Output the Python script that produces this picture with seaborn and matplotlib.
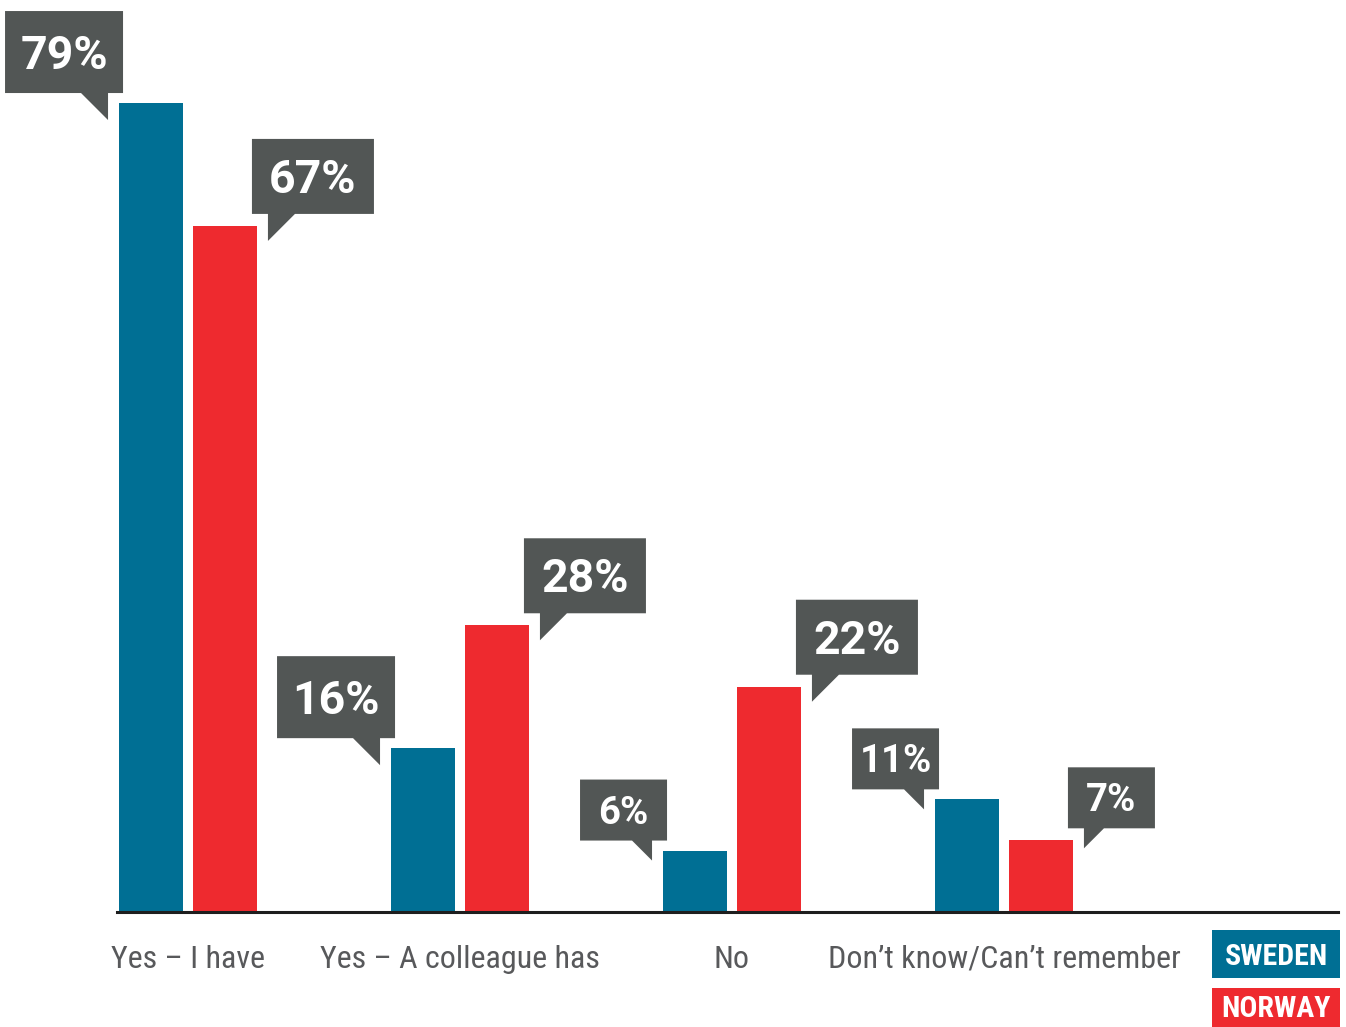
import numpy as np
import pandas as pd
import seaborn as sns
import matplotlib.pyplot as plt
from matplotlib.patches import Polygon, Rectangle
from matplotlib.transforms import IdentityTransform
from matplotlib import font_manager

# data
categories = ['Yes – I have', 'Yes – A colleague has', 'No', 'Don’t know/Can’t remember']
sweden = [79, 16, 6, 11]
norway = [67, 28, 22, 7]
countries = ['SWEDEN', 'NORWAY']
colors = ['#006f94', '#ee2a2f']
box_color = '#525655'


def pick_font(names):
    for n in names:
        try:
            font_manager.findfont(font_manager.FontProperties(family=n), fallback_to_default=False)
            return n
        except ValueError:
            pass
    return 'DejaVu Sans'


cond = pick_font(['Roboto Condensed', 'PT Sans Narrow', 'Liberation Sans Narrow', 'Liberation Sans'])
bold = pick_font(['Roboto', 'Liberation Sans'])
plt.rcParams['font.family'] = [cond, 'DejaVu Sans']

df = pd.DataFrame({
    'answer': categories * 2,
    'share': sweden + norway,
    'country': ['SWEDEN'] * len(sweden) + ['NORWAY'] * len(norway),
})

W, H = 1346, 1027
fig = plt.figure(figsize=(W / 100, H / 100), dpi=100)
ax = fig.add_axes([117 / W, 115 / H, 1221 / W, 912 / H])

sns.barplot(data=df, x='answer', y='share', hue='country', hue_order=countries,
            palette=colors, width=0.544, gap=0.136, saturation=1, legend=False, ax=ax)

ax.set_ylim(0, 912 / 10.24)
ax.set_xlim(-0.261, 4.228)
for s in ['top', 'right', 'left']:
    ax.spines[s].set_visible(False)
ax.spines['bottom'].set_linewidth(2.2)
ax.spines['bottom'].set_color('#1e1e1e')
ax.set_yticks([])
ax.set_xlabel('')
ax.set_ylabel('')
ax.tick_params(axis='x', length=0, pad=23.5, labelsize=23, labelcolor='#58595b')

# callout boxes
ident = IdentityTransform()


def callout(x_edge, y_top, value, side):
    big = value >= 15
    p = 27 if big else 20
    if side == 'left':
        w, h = (118, 82) if big else (87, 61)
        right = x_edge + 4
        bottom = y_top + 10
        left = right - w
        px = right - 15
        verts = [(left, bottom + h), (right, bottom + h), (right, bottom), (px, bottom),
                 (px, bottom - p), (px - p, bottom), (left, bottom)]
    else:
        w, h = (122, 75) if big else (87, 61)
        left = x_edge - 5
        bottom = y_top + 12
        right = left + w
        px = left + 16
        verts = [(left, bottom + h), (right, bottom + h), (right, bottom), (px + p, bottom),
                 (px, bottom - p), (px, bottom), (left, bottom)]
    fig.patches.append(Polygon(verts, closed=True, facecolor=box_color, edgecolor='none',
                               transform=ident, figure=fig))
    fs = 33.5 if big else 27.5
    cap = 0.711 * fs * 100 / 72
    fig.text((left + right) / 2, bottom + h / 2 - cap / 2, f'{value}%', transform=ident,
             ha='center', va='baseline', color='white', fontsize=fs, fontweight='bold',
             family=[bold, 'DejaVu Sans'])


for cont, vals, side in zip(ax.containers, [sweden, norway], ['left', 'right']):
    for bar, v in zip(cont, vals):
        if side == 'left':
            xd, yd = ax.transData.transform((bar.get_x(), bar.get_height()))
        else:
            xd, yd = ax.transData.transform((bar.get_x() + bar.get_width(), bar.get_height()))
        callout(xd, yd, v, side)

# legend boxes
for (y0, y1), name, c in zip([(49, 97), (0, 39)], countries, colors):
    fig.patches.append(Rectangle((1212, y0), 128, y1 - y0, facecolor=c, edgecolor='none',
                                 transform=ident, figure=fig))
    fs = 21.5
    cap = 0.711 * fs * 100 / 72
    ymid = (y0 + y1) / 2 if y0 > 0 else 21
    fig.text(1276, ymid - cap / 2, name, transform=ident, ha='center', va='baseline',
             color='white', fontsize=fs, fontweight='bold')

fig.savefig('out.png', dpi=100)
